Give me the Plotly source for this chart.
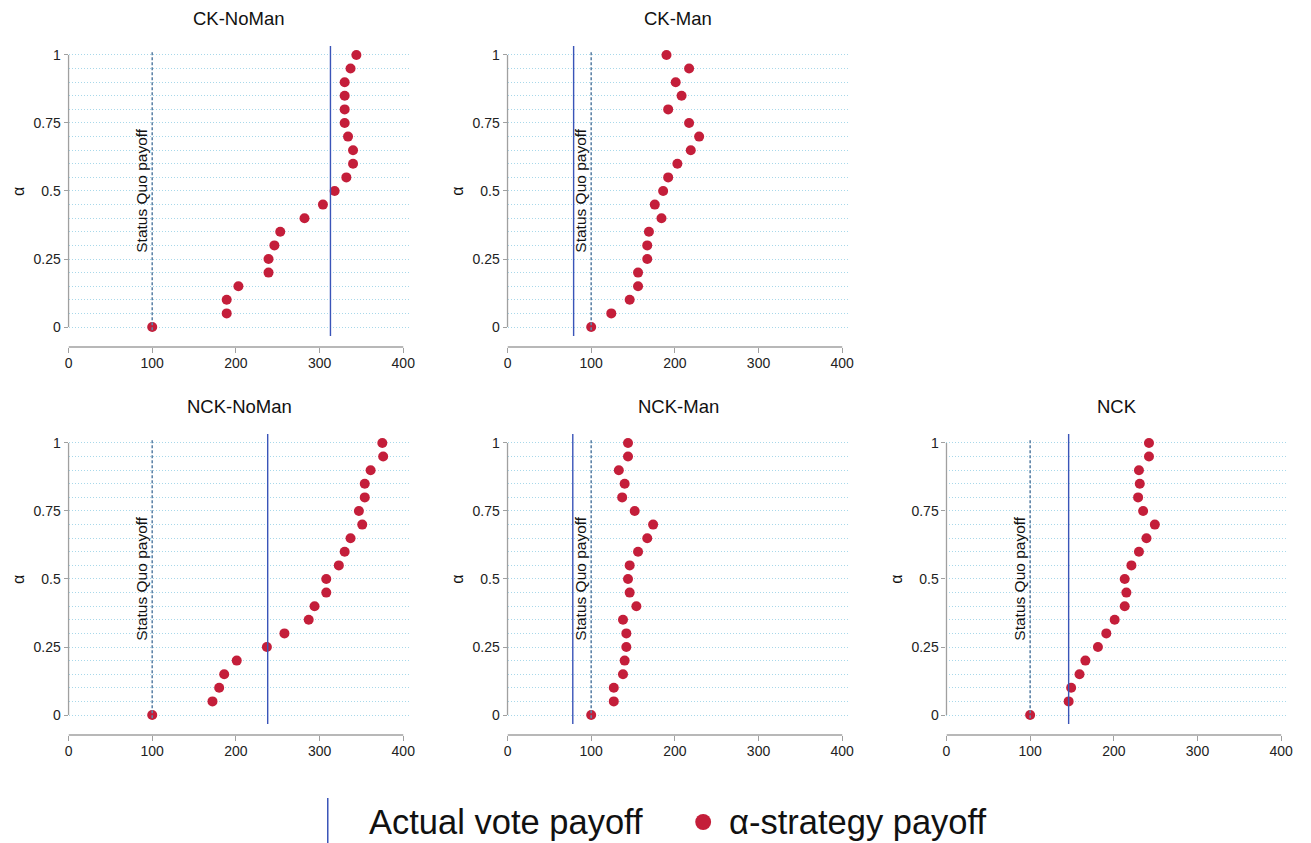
import plotly.graph_objects as go

# ---------------- data ----------------
alpha = [0, 0.05, 0.1, 0.15, 0.2, 0.25, 0.3, 0.35, 0.4, 0.45, 0.5,
         0.55, 0.6, 0.65, 0.7, 0.75, 0.8, 0.85, 0.9, 0.95, 1]

panel_titles = ["CK-NoMan", "CK-Man", "NCK-NoMan", "NCK-Man", "NCK"]

ck_noman = [100, 189, 189, 203, 239, 239, 246, 253, 282, 304, 318,
            332, 340, 340, 334, 330, 330, 330, 330, 337, 344]
ck_man = [100, 124, 146, 156, 156, 167, 167, 169, 184, 176, 186,
          192, 203, 219, 229, 217, 192, 208, 201, 217, 190]
nck_noman = [100, 172, 180, 186, 201, 237, 258, 287, 294, 308, 308,
             323, 330, 337, 351, 347, 354, 354, 361, 376, 375]
nck_man = [100, 127, 127, 138, 140, 142, 142, 138, 154, 146, 144,
           146, 156, 167, 174, 152, 137, 140, 133, 144, 144]
nck = [100, 146, 149, 159, 166, 181, 191, 201, 213, 215, 213,
       221, 230, 239, 249, 235, 229, 231, 230, 242, 242]

actual_vote = [313, 79, 238, 78, 146]
status_quo = [100, 100, 100, 100, 100]

x_ticks = [0, 100, 200, 300, 400]
y_ticks = [0, 0.25, 0.5, 0.75, 1]
y_ticktext = ["0", "0.25", "0.5", "0.75", "1"]

series = [ck_noman, ck_man, nck_noman, nck_man, nck]

# ---------------- layout geometry ----------------
W, H = 1311, 843
FONT = "Liberation Sans, Arial, Helvetica, sans-serif"
DOT = "#c41e3a"
BLUE = "#3a54b8"
SQ = "#5f84a8"
GRID = "#a8d8ea"
AX = "#a0a0a0"

# (left px, right px) of plot areas per column, (top px, bottom px) per row
cols = [(65, 409), (507, 851), (949, 1293)]
rows = [(46, 347), (434, 735)]
positions = [(0, 0), (0, 1), (1, 0), (1, 1), (1, 2)]

x_range = [0, 408.3]
y_range = [-0.0735, 1.033]

fig = go.Figure()
layout = dict(
    width=W, height=H,
    margin=dict(l=0, r=0, t=0, b=0),
    paper_bgcolor="white", plot_bgcolor="white",
    showlegend=False,
    font=dict(family=FONT, color="#222"),
)
shapes = []
annotations = []

for i, (title, vals) in enumerate(zip(panel_titles, series)):
    r, c = positions[i]
    n = "" if i == 0 else str(i + 1)
    xa, ya = "x" + n, "y" + n
    l, rr = cols[c]
    t, b = rows[r]
    layout["xaxis" + n] = dict(
        domain=[l / W, rr / W], range=x_range, anchor=ya,
        tickvals=x_ticks, ticks="outside", ticklen=5, tickcolor=AX, tickwidth=1.2,
        showline=False, showgrid=False, zeroline=False, ticklabelstandoff=-2,
        tickfont=dict(size=14, color="#222", family=FONT),
    )
    layout["yaxis" + n] = dict(
        domain=[1 - b / H, 1 - t / H], range=y_range, anchor=xa,
        tickvals=y_ticks, ticktext=y_ticktext, ticks="outside", ticklen=4,
        tickcolor=AX, tickwidth=1.2,
        showline=False, zeroline=False,
        showgrid=True, gridcolor=GRID, griddash="1px,2px", gridwidth=1,
        minor=dict(tickvals=alpha, showgrid=True, gridcolor=GRID,
                   griddash="1px,2px", gridwidth=1, ticks=""),
        tickfont=dict(size=14, color="#222", family=FONT),
    )
    # axis lines (span data range only)
    shapes.append(dict(type="line", xref=xa + " domain", yref=ya,
                       x0=0, x1=0, y0=0, y1=1, line=dict(color=AX, width=1.3)))
    shapes.append(dict(type="line", xref=xa, yref=ya + " domain",
                       x0=0, x1=400, y0=0, y1=0, line=dict(color=AX, width=1.3)))
    # status quo dashed line
    shapes.append(dict(type="line", xref=xa, yref=ya + " domain",
                       x0=status_quo[i], x1=status_quo[i], y0=0.056, y1=0.981,
                       line=dict(color=SQ, width=1.6, dash="3px,2px")))
    # actual vote line
    shapes.append(dict(type="line", xref=xa, yref=ya + " domain",
                       x0=actual_vote[i], x1=actual_vote[i], y0=0.0365, y1=1,
                       line=dict(color=BLUE, width=1.4)))
    fig.add_trace(go.Scatter(
        x=vals, y=alpha, mode="markers", xaxis=xa, yaxis=ya,
        marker=dict(size=10, color=DOT, line=dict(width=0)),
        cliponaxis=False, hoverinfo="x+y",
    ))
    # status quo label
    annotations.append(dict(
        x=status_quo[i], y=0.5, xref=xa, yref=ya, text="Status Quo payoff",
        textangle=-90, xanchor="right", yanchor="middle", showarrow=False,
        font=dict(size=15.5, color="#111", family=FONT),
    ))
    # panel title
    annotations.append(dict(
        x=(l + rr) / 2 / W, y=1 - (t - 28) / H, xref="paper", yref="paper",
        text=title, showarrow=False, xanchor="center", yanchor="middle",
        font=dict(size=18.5, color="#111", family=FONT),
    ))
    # y-axis title
    annotations.append(dict(
        x=(l - 51) / W, y=1 - (b - 20 - 0.5 * 272) / H, xref="paper", yref="paper",
        text="α", textangle=-90, showarrow=False, xanchor="center", yanchor="middle",
        font=dict(size=16, color="#111", family=FONT),
    ))

# ---------------- legend (drawn manually) ----------------
shapes.append(dict(type="line", xref="paper", yref="paper",
                   x0=326 / W, x1=326 / W, y0=0, y1=1 - 798 / H,
                   line=dict(color=BLUE, width=1.5)))
annotations.append(dict(
    x=366 / W, y=1 - 822 / H, xref="paper", yref="paper", text="Actual vote payoff",
    showarrow=False, xanchor="left", yanchor="middle",
    font=dict(size=34.5, color="#111", family=FONT),
))
shapes.append(dict(type="circle", xref="paper", yref="paper",
                   x0=696 / W, x1=712 / W, y0=1 - 830 / H, y1=1 - 814 / H,
                   fillcolor=DOT, line=dict(width=0)))
annotations.append(dict(
    x=728 / W, y=1 - 822 / H, xref="paper", yref="paper", text="α-strategy payoff",
    showarrow=False, xanchor="left", yanchor="middle",
    font=dict(size=34.5, color="#111", family=FONT),
))

layout["shapes"] = shapes
layout["annotations"] = annotations
fig.update_layout(**layout)
fig.write_html(
    "out.html",
    config={"displayModeBar": False},
    post_script="document.body.style.margin='0';document.body.style.overflow='hidden';",
)
